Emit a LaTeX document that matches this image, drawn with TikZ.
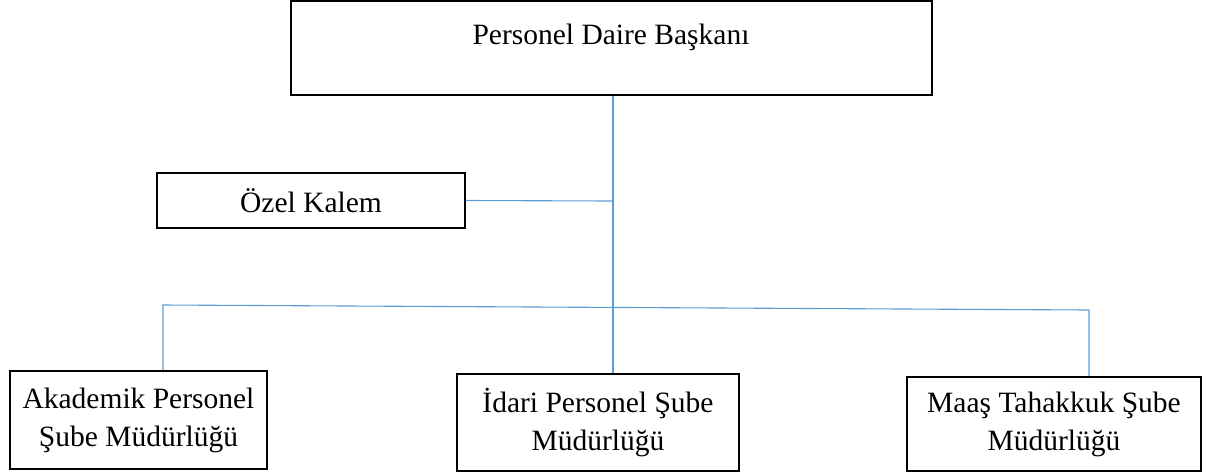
\documentclass[tikz,border=0pt]{standalone}
\usepackage{fontspec}
\setmainfont{Liberation Serif}
\definecolor{linkblue}{RGB}{91,155,213}
\begin{document}
\begin{tikzpicture}[x=1pt,y=-1pt,
  box/.style={draw=black,line width=1.8pt,inner sep=0pt,align=center,
    font=\fontsize{29.5}{38}\selectfont},
  conn/.style={draw=linkblue,line width=1.1pt},
  lbl/.style={inner sep=0pt,font=\fontsize{29.5}{38}\selectfont}]
\useasboundingbox (0,0) rectangle (1219,475);
\node[box,minimum width=641pt,minimum height=94pt] (pdb) at (611.5,48) {};
\node[lbl] (pdbt) at (611,37) {Personel Daire Başkanı};
\node[box,minimum width=308pt,minimum height=55pt] (ozel) at (311,200.5) {Özel Kalem};
\node[box,minimum width=257pt,minimum height=98pt] (akad) at (138.5,420) {Akademik Personel\\Şube Müdürlüğü};
\node[box,minimum width=282pt,minimum height=97pt] (idari) at (598,422.5) {İdari Personel Şube\\Müdürlüğü};
\node[box,minimum width=294pt,minimum height=94pt] (maas) at (1054,424) {Maaş Tahakkuk Şube\\Müdürlüğü};
\coordinate (j1) at (613,201);
\coordinate (hl) at (163,305);
\coordinate (hr) at (1089,310);
\draw[conn] (pdb.south -| j1) -- (idari.north -| j1);
\draw[conn] (ozel.east) -- (j1);
\draw[conn] (akad.north -| hl) -- (hl) -- (hr) -- (maas.north -| hr);
\end{tikzpicture}
\end{document}
